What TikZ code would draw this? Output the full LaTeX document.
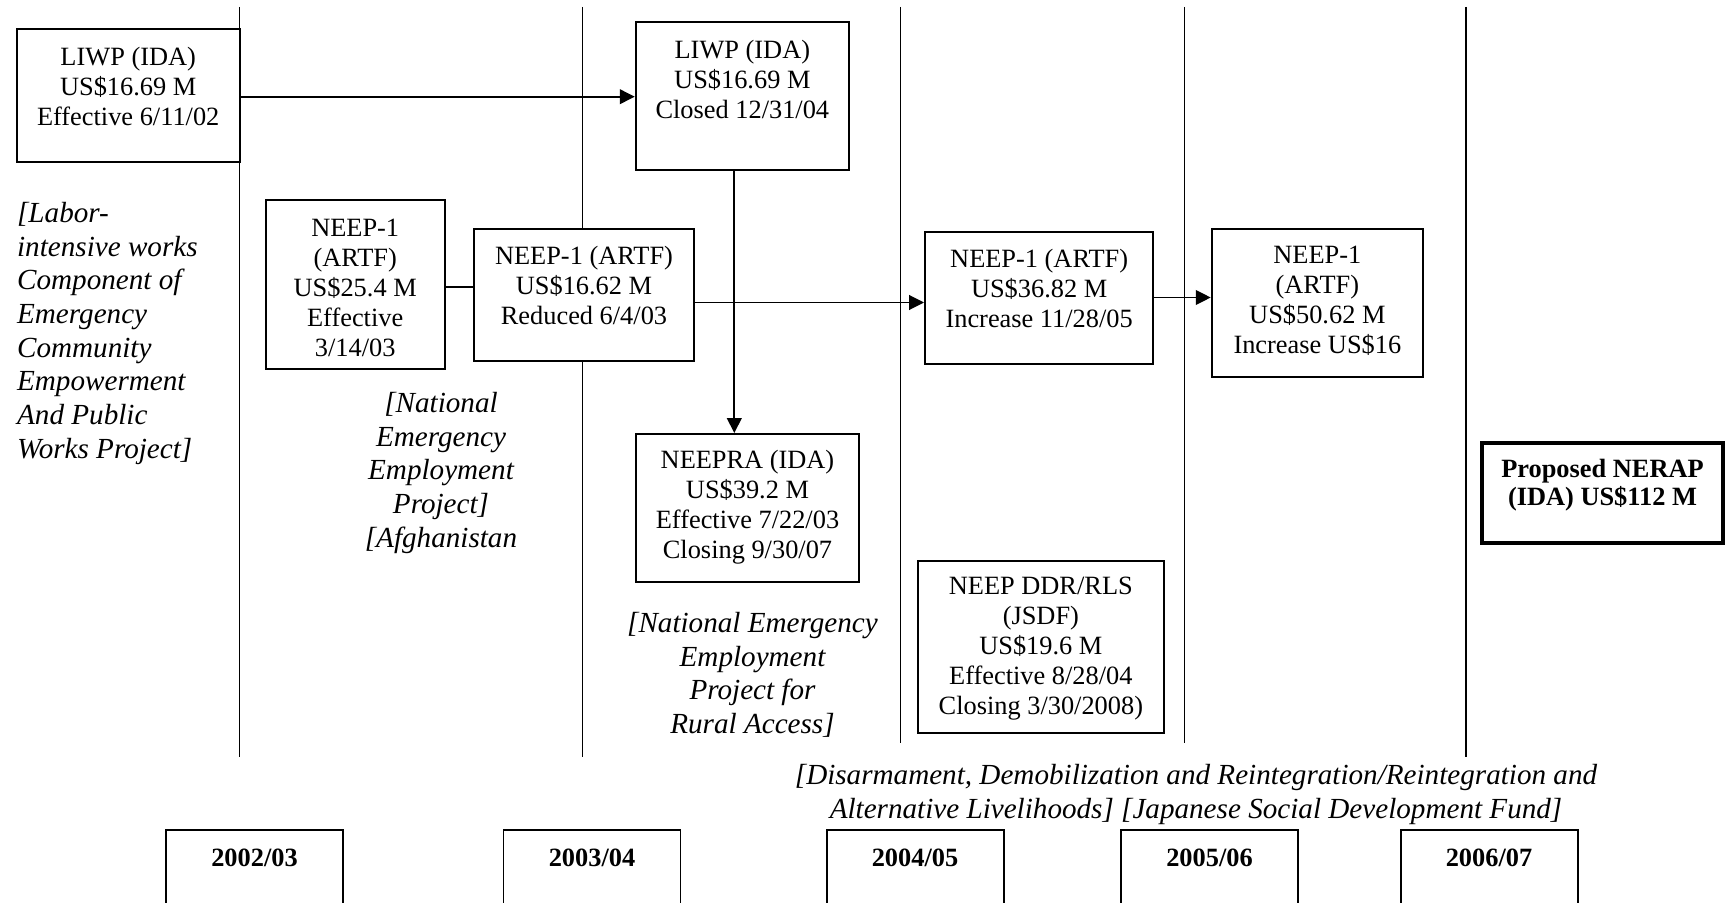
\documentclass[tikz,border=0pt]{standalone}
\usepackage{fontspec}
\setmainfont{Liberation Serif}
\usetikzlibrary{arrows.meta}
\tikzset{
  wh/.style 2 args={minimum width=#1*0.455pt, minimum height=#2*0.455pt},
  box/.style={draw, line width=0.9pt, fill=white, inner sep=0pt},
  bigbox/.style={draw, line width=1.8pt, fill=white, inner sep=0pt},
  ybox/.style={draw, line width=0.9pt, fill=white, inner sep=0pt},
  txt/.style={align=center, inner sep=0pt, font=\fontsize{12pt}{13.65pt}\selectfont},
  btxt/.style={align=center, inner sep=0pt, font=\fontsize{12pt}{12.9pt}\selectfont\bfseries},
  itxt/.style={inner sep=0pt, font=\fontsize{13.26pt}{15.3pt}\selectfont\itshape},
  tline/.style={line width=0.6pt},
  conn/.style={line width=0.8pt},
  arr/.style={conn, -{Triangle[length=6.8pt,width=6.7pt]}},
}
\begin{document}
\begin{tikzpicture}[x=0.455pt, y=-0.455pt]
\clip (0,0) rectangle (1727,903);
% timeline separators
\coordinate (s1t) at (239.5,7);  \coordinate (s1b) at (239.5,757);
\coordinate (s2t) at (582.3,7);  \coordinate (s2b) at (582.3,757);
\coordinate (s3t) at (900.8,7);  \coordinate (s3b) at (900.8,743);
\coordinate (s4t) at (1184.4,7); \coordinate (s4b) at (1184.4,743);
\coordinate (s5t) at (1466,7);   \coordinate (s5b) at (1466,757);
\draw[tline] (s1t) -- (s1b);
\draw[tline] (s2t) -- (s2b);
\draw[tline] (s3t) -- (s3b);
\draw[tline] (s4t) -- (s4b);
\draw[tline] (s5t) -- (s5b);

% boxes
\node[box, wh={223}{132.7}] (liwp1) at (128.2,95.65) {};
\node[txt] (liwp1t) at (128.2,86.7) {LIWP (IDA)\\US\$16.69 M\\Effective 6/11/02};

\node[box, wh={213.3}{148.3}] (liwp2) at (742.35,95.85) {};
\node[txt] (liwp2t) at (742.35,79) {LIWP (IDA)\\US\$16.69 M\\Closed 12/31/04};

\node[box, wh={179}{168.7}] (n254) at (355.2,284.65) {};
\node[txt] (n254t) at (355.2,288) {NEEP-1\\(ARTF)\\US\$25.4 M\\Effective\\3/14/03};

\node[box, wh={220}{132}] (n1662) at (584,294.7) {};
\node[txt] (n1662t) at (584,285) {NEEP-1 (ARTF)\\US\$16.62 M\\Reduced 6/4/03};

\node[box, wh={228.3}{132.3}] (n3682) at (1039.15,297.85) {};
\node[txt] (n3682t) at (1039.15,288.3) {NEEP-1 (ARTF)\\US\$36.82 M\\Increase 11/28/05};

\node[box, wh={211.3}{147.7}] (n5062) at (1317.35,302.85) {};
\node[txt] (n5062t) at (1317.35,300.8) {NEEP-1\\(ARTF)\\US\$50.62 M\\Increase US\$16};

\node[box, wh={223.6}{147.7}] (neepra) at (747.5,507.85) {};
\node[txt] (neeprat) at (747.5,507.5) {NEEPRA (IDA)\\US\$39.2 M\\Effective 7/22/03\\Closing 9/30/07};

\node[box, wh={246.3}{172}] (ddr) at (1040.85,646.7) {};
\node[txt] (ddrt) at (1040.85,648.3) {NEEP DDR/RLS\\(JSDF)\\US\$19.6 M\\Effective 8/28/04\\Closing 3/30/2008)};

\node[bigbox, wh={241}{100}] (nerap) at (1602.5,493) {};
\node[btxt] (nerapt) at (1602.5,484.85) {Proposed NERAP\\(IDA) US\$112 M};

% year boxes
\node[ybox, wh={177}{130}] (y1) at (254.5,895) {};
\node[btxt] (y1t) at (254.5,858) {2002/03};
\node[ybox, wh={177}{130}] (y2) at (592,895) {};
\node[btxt] (y2t) at (592,858) {2003/04};
\node[ybox, wh={177}{130}] (y3) at (915,895) {};
\node[btxt] (y3t) at (915,858) {2004/05};
\node[ybox, wh={177}{130}] (y4) at (1209.5,895) {};
\node[btxt] (y4t) at (1209.5,858) {2005/06};
\node[ybox, wh={177}{130}] (y5) at (1489,895) {};
\node[btxt] (y5t) at (1489,858) {2006/07};

% italic notes
\node[itxt, align=left, anchor=north west] (labor) at (16.7,202)
  {[Labor-\\intensive works\\Component of\\Emergency\\Community\\Empowerment\\And Public\\Works Project]};
\node[itxt, align=center, anchor=north] (neepnote) at (441,392)
  {[National\\Emergency\\Employment\\Project]\\{}[Afghanistan};
\node[itxt, align=center, anchor=north] (neepranote) at (752.5,612)
  {[National Emergency\\Employment\\Project for\\Rural Access]};
\node[itxt, align=center, anchor=north] (ddrnote) at (1196,764)
  {[Disarmament, Demobilization and Reintegration/Reintegration and\\Alternative Livelihoods] [Japanese Social Development Fund]};

% connectors
\coordinate (ya) at (0,96.7);
\coordinate (yb) at (0,286.7);
\coordinate (yc) at (0,302.5);
\coordinate (yd) at (0,297.5);
\coordinate (xa) at (734.3,0);
\draw[arr] (liwp1.east |- ya) -- (liwp2.west |- ya);
\draw[conn] (n254.east |- yb) -- (n1662.west |- yb);
\draw[arr] (n1662.east |- yc) -- (n3682.west |- yc);
\draw[arr] (n3682.east |- yd) -- (n5062.west |- yd);
\draw[arr] (liwp2.south -| xa) -- (neepra.north -| xa);
\end{tikzpicture}
\end{document}
